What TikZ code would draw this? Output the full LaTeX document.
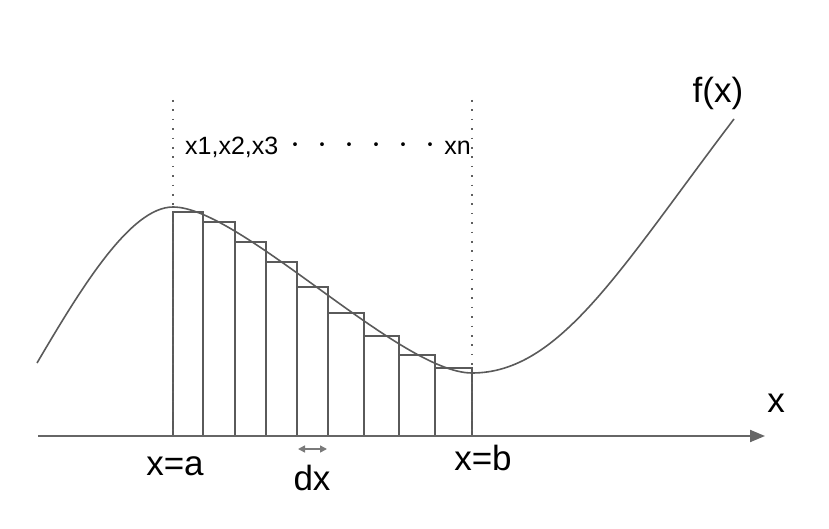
\documentclass[tikz,border=0pt]{standalone}
\usepackage{fontspec}
\setmainfont{Liberation Sans}
\newfontfamily\jpfont{Noto Sans CJK JP}
\usetikzlibrary{arrows.meta,positioning}
\definecolor{curvegray}{HTML}{5A5A5A}
\definecolor{axisgray}{HTML}{666666}
\definecolor{guidegray}{HTML}{5F5F5F}
\definecolor{stepgray}{HTML}{7A7A7A}
\tikzset{
  axisline/.style={-{Triangle[length=15pt, width=12pt]}, line width=2pt, draw=axisgray},
  stripbox/.style={draw=curvegray, line width=1.6pt},
  fcurve/.style={draw=curvegray, line width=1.6pt},
  guideline/.style={draw=guidegray, line width=1.6pt, dash pattern=on 1.6pt off 7.8pt},
  steparr/.style={{Triangle[length=7pt, width=7pt]}-{Triangle[length=7pt, width=7pt]}, line width=1.6pt, draw=stepgray},
  biglabel/.style={font=\fontsize{35}{40}\selectfont, inner sep=0pt},
  smalllabel/.style={font=\fontsize{25}{30}\selectfont, inner sep=0pt}
}
\newcommand{\midpt}{\makebox[27pt]{\raisebox{3pt}{\jpfont\fontsize{18}{20}\selectfont ・}}}

\begin{document}
\begin{tikzpicture}[x=1pt,y=-1pt]
    \useasboundingbox (0,0) rectangle (829,529);
    % strips under the curve
    \foreach \l/\r/\t in {173/203/212, 203/235/222, 235/266/242, 266/297/262,
      297/328/287, 328/364/313, 364/399/336, 399/435/355, 435/472/368} {
      \draw[stripbox] (\l,436) rectangle (\r,\t);
    }
    \coordinate (ga top) at (173,100);
    \coordinate (ga bot) at (173,436);
    \coordinate (gb top) at (472,100);
    \coordinate (gb bot) at (472,436);
    \draw[guideline] (ga top) -- (ga bot);
    \draw[guideline] (gb top) -- (gb bot);
    % the function
    \coordinate (fstart) at (37,363);
    \coordinate (fpeak) at (173,207);
    \coordinate (fmin) at (472,373);
    \coordinate (fend) at (734,119);
    \draw[fcurve] (fstart) .. controls (80,290) and (130,207) .. (fpeak)
      .. controls (240,207) and (400,373) .. (fmin)
      .. controls (560,373) and (620,269) .. (fend);
    \coordinate (ax0) at (38,436);
    \coordinate (ax1) at (765,436);
    \draw[axisline] (ax0) -- (ax1);
    \coordinate (dx0) at (298,449);
    \coordinate (dx1) at (327,449);
    \draw[steparr] (dx0) -- (dx1);
    % labels
    \node[biglabel, anchor=base] (fx) at (718,103) {f(x)};
    \node[biglabel, anchor=base] (xaxis) at (776,412) {x};
    \node[biglabel, anchor=base] (xa) at (175,475) {x=a};
    \node[biglabel, anchor=base] (xb) at (483,470) {x=b};
    \node[biglabel, anchor=base] (dx) at (312,490) {dx};
    \node[smalllabel, anchor=base west] (parts) at (185,155)
      {x1,x2,x3\hspace{4pt}\midpt\midpt\midpt\midpt\midpt\midpt xn};
\end{tikzpicture}
\end{document}
